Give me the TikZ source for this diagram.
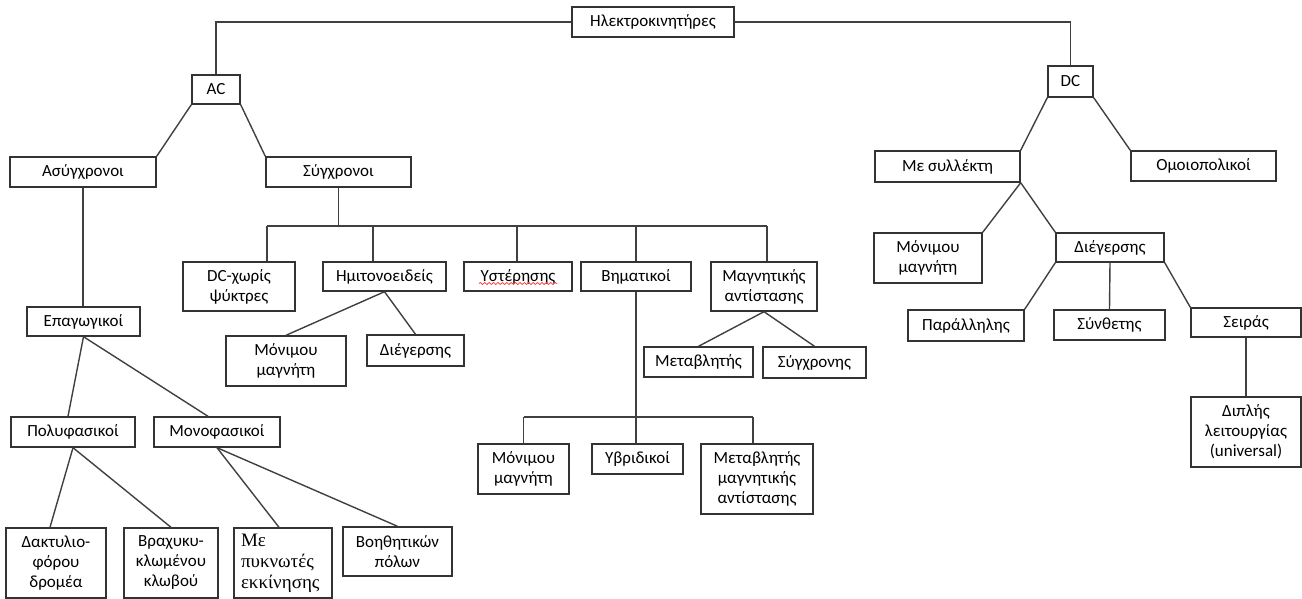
\documentclass[tikz,border=0pt]{standalone}
\usepackage{fontspec}
\setmainfont{Carlito}
\newfontfamily\capfont{Liberation Serif}
\usetikzlibrary{calc,decorations.pathmorphing}
\newdimen\pxu
\pxu=0.5pt

\begin{document}
\begin{tikzpicture}[
  x=0.5pt, y=-0.5pt,
  box/.style={draw=black!80, line width=0.7pt, fill=white, align=center,
              inner sep=0pt, font=\fontsize{8.5}{10}\selectfont},
  wh/.style 2 args={minimum width=#1\pxu, minimum height=#2\pxu},
  link/.style={draw=black!75, line width=0.7pt},
  spell/.style={draw=red!75, line width=0.4pt,
                decorate, decoration={snake, amplitude=0.5pt, segment length=2.2pt}},
]
\useasboundingbox (0,0) rectangle (1302,599);

%% ---- root -----------------------------------------------------------------
\node[box, wh={162}{30}] (main) at (653,22) {Ηλεκτροκινητήρες};
\node[box, wh={48}{29}]  (ac)   at (216,89.5) {AC};
\node[box, wh={45}{31}]  (dc)   at (1070.5,81.5) {DC};

%% ---- AC: asynchronous -----------------------------------------------------
\node[box, wh={146}{30}] (async)  at (83,172)    {Ασύγχρονοι};
\node[box, wh={113}{29}] (ind)    at (83.5,321.5) {Επαγωγικοί};
\node[box, wh={124}{30}] (poly)   at (73,432)    {Πολυφασικοί};
\node[box, wh={126}{30}] (mono)   at (217,432)   {Μονοφασικοί};
\node[box, wh={100}{70}] (wound)  at (56,563)    {Δακτυλιο-\\φόρου\\δρομέα};
\node[box, wh={94}{70}]  (cage)   at (171,563)   {Βραχυκυ-\\κλωμένου\\κλωβού};
\node[box, wh={98}{70}, align=left, text width=84\pxu,
      font=\capfont\fontsize{9.5}{10.5}\selectfont] (capst) at (283,563)
  {Με\\πυκνωτές\\εκκίνησης};
\node[box, wh={109}{49}] (shpole) at (397.5,551.5) {Βοηθητικών\\πόλων};

%% ---- AC: synchronous ------------------------------------------------------
\node[box, wh={145}{30}] (sync)   at (338.5,172)  {Σύγχρονοι};
\node[box, wh={112}{49}] (bldc)   at (239,286.5)  {DC-χωρίς\\ψύκτρες};
\node[box, wh={123}{29}] (sine)   at (384.5,276.5) {Ημιτονοειδείς};
\node[box, wh={108}{29}] (hyst)   at (518,276.5)  {Υστέρησης};
\node[box, wh={110}{29}] (stepm)  at (636,276.5)  {Βηματικοί};
\node[box, wh={106}{49}] (rel)    at (764,286.5)  {Μαγνητικής\\αντίστασης};
\node[box, wh={120}{50}] (sinepm) at (286,361)    {Μόνιμου\\μαγνήτη};
\node[box, wh={97}{31}]  (sineex) at (415.5,350.5) {Διέγερσης};
\node[box, wh={109}{30}] (relvar) at (698.5,362)  {Μεταβλητής};
\node[box, wh={103}{31}] (relsyn) at (814.5,362.5) {Σύγχρονης};
\node[box, wh={91}{50}]  (steppm) at (523.5,469)  {Μόνιμου\\μαγνήτη};
\node[box, wh={91}{30}]  (stephy) at (637.5,459)  {Υβριδικοί};
\node[box, wh={112}{70}] (stepvr) at (757,479)    {Μεταβλητής\\μαγνητικής\\αντίστασης};

%% ---- DC -------------------------------------------------------------------
\node[box, wh={145}{31}] (comm)   at (947.5,166.5) {Με συλλέκτη};
\node[box, wh={145}{30}] (homo)   at (1203.5,166)  {Ομοιοπολικοί};
\node[box, wh={108}{50}] (dcpm)   at (928,258)     {Μόνιμου\\μαγνήτη};
\node[box, wh={108}{29}] (dcex)   at (1110,247.5)  {Διέγερσης};
\node[box, wh={116}{31}] (shunt)  at (966,325.5)   {Παράλληλης};
\node[box, wh={111}{30}] (compd)  at (1109.5,325)  {Σύνθετης};
\node[box, wh={110}{29}] (series) at (1246,322.5)  {Σειράς};
\node[box, wh={110}{70}] (univ)   at (1246,432)    {Διπλής\\λειτουργίας\\(universal)};

%% spell-check squiggle under one label
\draw[spell] ($(hyst.center)+(-39,7)$) -- ($(hyst.center)+(39,7)$);

%% ---- top level ------------------------------------------------------------
\coordinate (topL) at (ac.north |- main.west);
\coordinate (topR) at (dc.north |- main.east);
\draw[link] (main.west) -- (topL) -- (ac.north);
\draw[link] (main.east) -- (topR) -- (dc.north);
\draw[link] (ac.south west) -- (async.north east);
\draw[link] (ac.south east) -- (sync.north west);
\draw[link] (dc.south west) -- (comm.north east);
\draw[link] (dc.south east) -- (homo.north west);

%% ---- asynchronous branch --------------------------------------------------
\draw[link] (async.south) -- (async.south |- ind.north);
\draw[link] (ind.south) -- ($(poly.north)+(-5,0)$);
\draw[link] (ind.south) -- ($(mono.north)+(-9,0)$);
\draw[link] (poly.south) -- ($(wound.north)+(-6,0)$);
\draw[link] (poly.south) -- (cage.north);
\draw[link] (mono.south) -- ($(capst.north)+(-4,0)$);
\draw[link] (mono.south) -- (shpole.north);

%% ---- synchronous branch ---------------------------------------------------
\coordinate (barL) at (267,226);
\coordinate (barR) at (767,226);
\draw[link] (sync.south) -- (sync.south |- barL);
\draw[link] (barL) -- (barR);
\foreach \x/\n in {267/bldc, 373/sine, 517/hyst, 636/stepm, 767/rel}
  \draw[link] (\x,226) -- (\x,0 |- \n.north);
\draw[link] (sine.south) -- (sinepm.north);
\draw[link] (sine.south) -- (sineex.north);
\draw[link] (rel.south) -- (relvar.north);
\draw[link] (rel.south) -- (relsyn.north);

\coordinate (stepL) at (523.5,417);
\coordinate (stepR) at (753,417);
\draw[link] (stepm.south) -- (stepm.south |- stephy.north);
\draw[link] (stepL) -- (stepR);
\draw[link] (stepL) -- (steppm.north);
\draw[link] (stepR) -- (stepR |- stepvr.north);

%% ---- DC branch ------------------------------------------------------------
\draw[link] (comm.south east) -- (dcpm.north east);
\draw[link] (comm.south east) -- (dcex.north west);
\draw[link] (dcex.south west) -- (shunt.north east);
\draw[link] (dcex.south) -- (compd.north);
\draw[link] (dcex.south east) -- (series.north west);
\draw[link] (series.south) -- (univ.north);

\end{tikzpicture}
\end{document}
